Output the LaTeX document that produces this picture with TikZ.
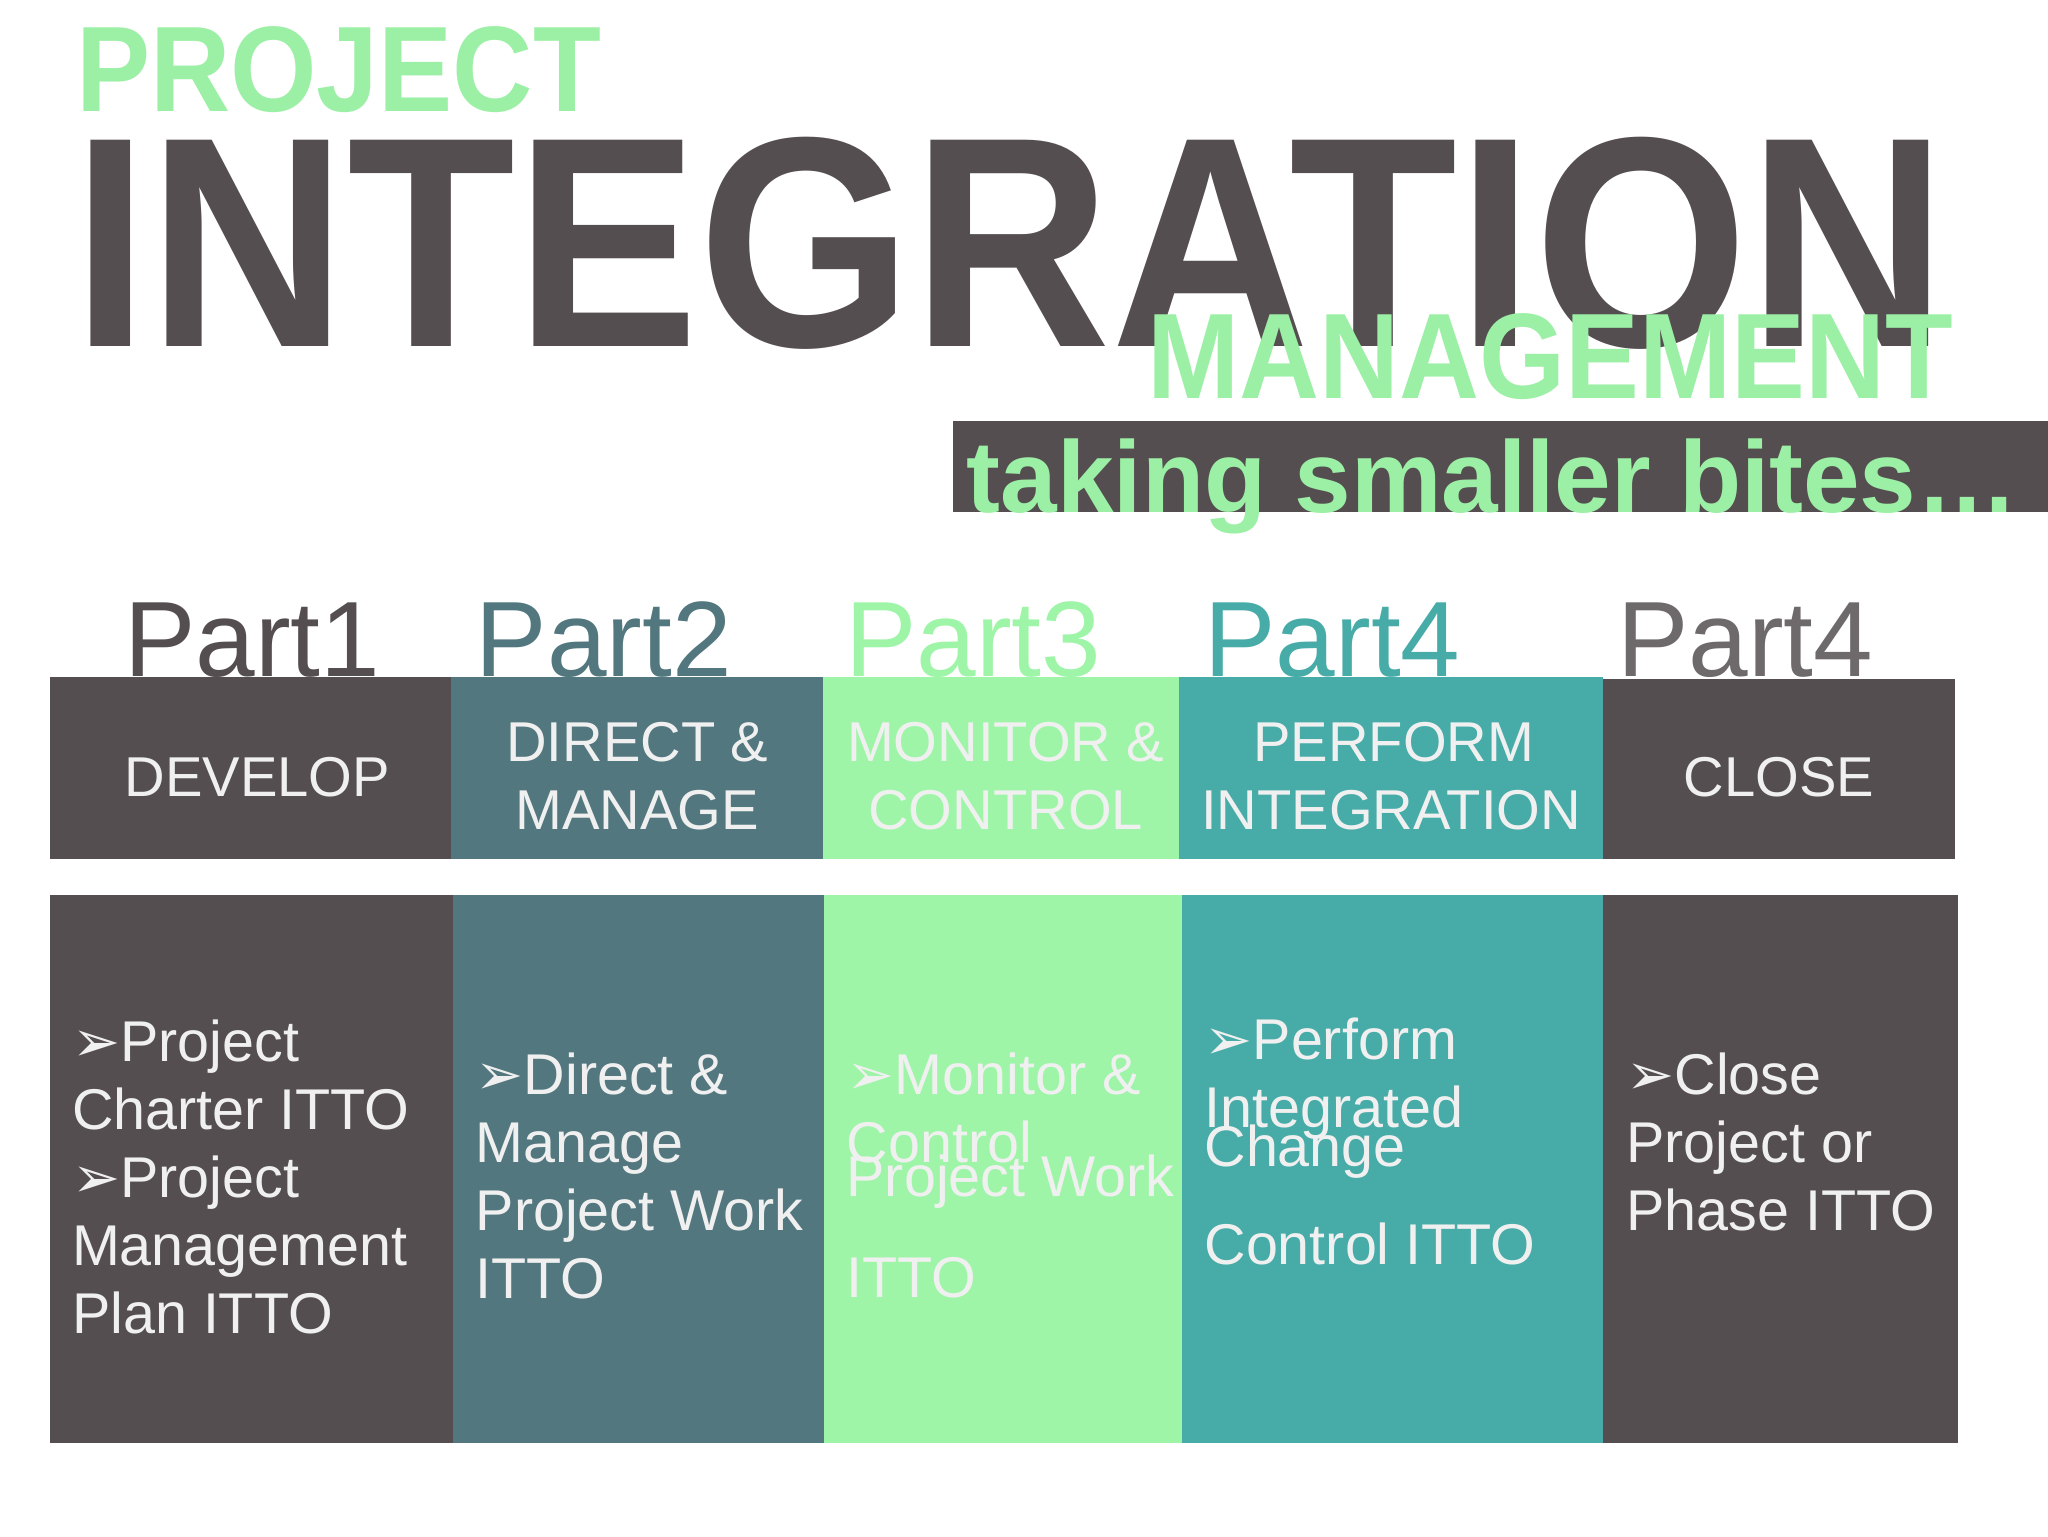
\documentclass[tikz,border=0pt]{standalone}
\usepackage{fontspec}
\setmainfont{Liberation Sans}
\newfontfamily\sym{DejaVu Sans}
\definecolor{dk}{HTML}{554E50}
\definecolor{tdk}{HTML}{52777E}
\definecolor{lg}{HTML}{9EF5A8}
\definecolor{tl}{HTML}{47ABA8}
\definecolor{gtxt}{HTML}{9CF0A6}
\definecolor{pg}{HTML}{6E6A6B}
\newcommand{\ar}{{\sym\fontsize{44}{44}\selectfont ➢}}
\tikzset{
  hd/.style={font=\fontsize{43}{52}\selectfont, text=white!94!black, anchor=base, inner sep=0pt},
  bd/.style={font=\fontsize{44}{52}\selectfont, text=white!94!black, anchor=base west, inner sep=0pt},
  pt/.style={font=\fontsize{82}{84}\selectfont, anchor=base west, inner sep=0pt}
}
\begin{document}
\begin{tikzpicture}[x=1pt,y=-1pt]
\useasboundingbox[fill=white] (0,0) rectangle (1568,1176);
\node[anchor=base west,inner sep=0pt,text=gtxt] (proj) at (58,85) {\resizebox{402pt}{65pt}{\bfseries PROJECT}};
\node[anchor=base west,inner sep=0pt,text=dk] (integ) at (55,265) {\resizebox{1435pt}{160pt}{\bfseries INTEGRATION}};
\node[anchor=base west,inner sep=0pt,text=gtxt] (mgmt) at (878,305) {\resizebox{617pt}{65pt}{\bfseries MANAGEMENT}};
\fill[dk] (730,322) rectangle (1568,392);
\node[anchor=base west,inner sep=0pt,text=gtxt] (bites) at (740,392) {\resizebox{805pt}{!}{\bfseries\fontsize{80}{80}\selectfont taking smaller bites…}};
% part labels
\node[pt,text=dk] (p1) at (95,518) {Part1};
\node[pt,text=tdk] (p2) at (364,518) {Part2};
\node[pt,text=lg] (p3) at (647,518) {Part3};
\node[pt,text=tl] (p4) at (922,518) {Part4};
\node[pt,text=pg] (p5) at (1238,518) {Part4};
% header boxes
\fill[dk] (38,518) rectangle (345,658);
\fill[tdk] (345,518) rectangle (630,658);
\fill[lg] (630,518) rectangle (903,658);
\fill[tl] (903,518) rectangle (1227,658);
\fill[dk] (1227,520) rectangle (1497,658);
\node[hd] (h1) at (197,610) {DEVELOP};
\node[hd] (h2a) at (488,583) {DIRECT \&};
\node[hd] (h2b) at (488,635) {MANAGE};
\node[hd] (h3a) at (770,583) {MONITOR \&};
\node[hd] (h3b) at (770,635) {CONTROL};
\node[hd] (h4a) at (1067,583) {PERFORM};
\node[hd] (h4b) at (1065,635) {INTEGRATION};
\node[hd] (h5) at (1362,610) {CLOSE};
% body boxes
\fill[dk] (38,685) rectangle (347,1105);
\fill[tdk] (347,685) rectangle (631,1105);
\fill[lg] (631,685) rectangle (905,1105);
\fill[tl] (905,685) rectangle (1227,1105);
\fill[dk] (1227,685) rectangle (1499,1105);
% col1
\node[bd] (a1) at (55,813) {\ar Project};
\node[bd] (a2) at (55,865) {Charter ITTO};
\node[bd] (a3) at (55,917) {\ar Project};
\node[bd] (a4) at (55,969) {Management};
\node[bd] (a5) at (55,1021) {Plan ITTO};
% col2
\node[bd] (b1) at (364,838) {\ar Direct \&};
\node[bd] (b2) at (364,890) {Manage};
\node[bd] (b3) at (364,942) {Project Work};
\node[bd] (b4) at (364,994) {ITTO};
% col3
\node[bd] (c1) at (648,838) {\ar Monitor \&};
\node[bd] (c2) at (648,890) {Control};
\node[bd] (c3) at (648,916) {Project Work};
\node[bd] (c4) at (648,993) {ITTO};
% col4
\node[bd] (d1) at (922,811) {\ar Perform};
\node[bd] (d2) at (922,863) {Integrated};
\node[bd] (d3) at (922,893) {Change};
\node[bd] (d4) at (922,968) {Control ITTO};
% col5
\node[bd] (e1) at (1245,838) {\ar Close};
\node[bd] (e2) at (1245,890) {Project or};
\node[bd] (e3) at (1245,942) {Phase ITTO};
\end{tikzpicture}
\end{document}
